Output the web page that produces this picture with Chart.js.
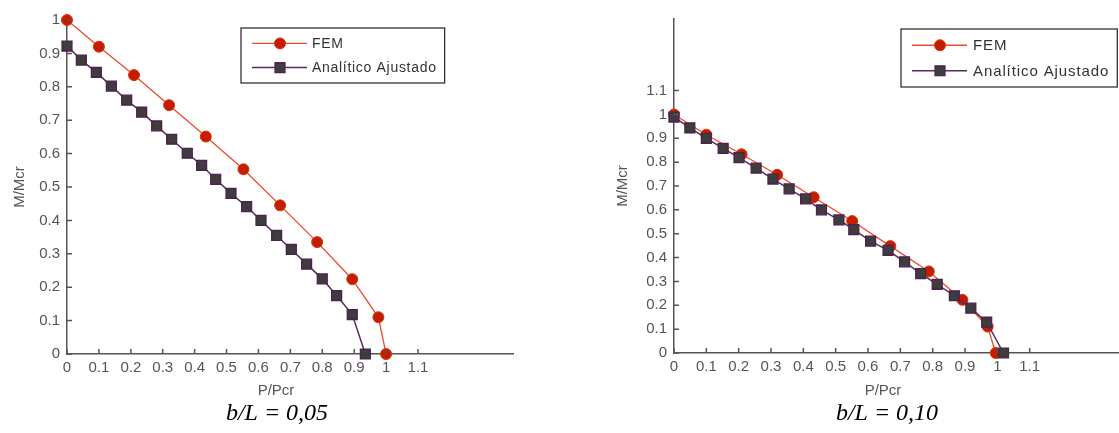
<!DOCTYPE html>
<html>
<head>
<meta charset="utf-8">
<script src="https://cdn.jsdelivr.net/npm/chart.js@4.4.1/dist/chart.umd.min.js"></script>
<style>
  html, body { margin: 0; padding: 0; background: #fff; }
  #wrap { position: relative; width: 1119px; height: 433px; overflow: hidden; }
  .box { position: absolute; top: 0; height: 433px; }
  #box05 { left: 0; width: 522px; }
  #box10 { left: 603px; width: 532px; }
</style>
</head>
<body>
<div id="wrap">
  <div class="box" id="box05"><canvas id="chart05"></canvas></div>
  <div class="box" id="box10"><canvas id="chart10"></canvas></div>
</div>
<script>
// Dados: b/L = 0,05
const femP05 = [0, 0.10, 0.21, 0.32, 0.435, 0.553, 0.668, 0.784, 0.894, 0.976, 1.0];
const femM05 = [1.0, 0.92, 0.835, 0.745, 0.651, 0.553, 0.445, 0.335, 0.224, 0.110, 0];
const anaP05 = [0, 0.045, 0.092, 0.139, 0.187, 0.234, 0.281, 0.328, 0.377, 0.422, 0.466,
                0.514, 0.563, 0.608, 0.657, 0.703, 0.751, 0.800, 0.845, 0.894, 0.935];
const anaM05 = [0.922, 0.880, 0.843, 0.802, 0.760, 0.724, 0.683, 0.643, 0.601, 0.565, 0.523,
                0.481, 0.441, 0.400, 0.355, 0.313, 0.269, 0.225, 0.175, 0.118, 0];

// Dados: b/L = 0,10
const femP10 = [0, 0.10, 0.209, 0.319, 0.432, 0.551, 0.669, 0.788, 0.892, 0.970, 0.995];
const femM10 = [1.0, 0.915, 0.833, 0.747, 0.653, 0.553, 0.448, 0.342, 0.223, 0.111, 0];
const anaP10 = [0, 0.049, 0.100, 0.152, 0.201, 0.254, 0.306, 0.356, 0.407, 0.456, 0.510,
                0.556, 0.608, 0.662, 0.713, 0.763, 0.814, 0.867, 0.918, 0.967, 1.019];
const anaM10 = [0.989, 0.944, 0.900, 0.858, 0.819, 0.775, 0.729, 0.688, 0.646, 0.600, 0.558,
                0.517, 0.469, 0.430, 0.382, 0.333, 0.288, 0.240, 0.188, 0.129, 0];

// Rótulos dos eixos
const xTicks = [0, 0.1, 0.2, 0.3, 0.4, 0.5, 0.6, 0.7, 0.8, 0.9, 1, 1.1];
const yTicks05 = [0, 0.1, 0.2, 0.3, 0.4, 0.5, 0.6, 0.7, 0.8, 0.9, 1];
const yTicks10 = [0, 0.1, 0.2, 0.3, 0.4, 0.5, 0.6, 0.7, 0.8, 0.9, 1, 1.1];
const seriesNames = ['FEM', 'Analítico Ajustado'];

const sans = "'Liberation Sans', Arial, sans-serif";
const axisGray = '#555';

function pts(xs, ys) {
    return xs.map((v, i) => ({ x: v, y: ys[i] }));
}

// Desenha marcas de escala para dentro, legenda com caixa e textos de baixo
const extras = {
    id: 'extras',
    afterDraw(chart, args, opts) {
        const ctx = chart.ctx;
        const xs = chart.scales.x, ys = chart.scales.y;
        ctx.save();

        ctx.strokeStyle = axisGray;
        ctx.lineWidth = 1.5;
        ctx.beginPath();
        xs.ticks.forEach(t => {
            const px = xs.getPixelForValue(t.value);
            ctx.moveTo(px, xs.top);
            ctx.lineTo(px, xs.top - 5);
        });
        ys.ticks.forEach(t => {
            const py = ys.getPixelForValue(t.value);
            ctx.moveTo(ys.right, py);
            ctx.lineTo(ys.right + 5, py);
        });
        ctx.stroke();

        // título do eixo x e legenda da figura
        ctx.fillStyle = axisGray;
        ctx.textAlign = 'center';
        ctx.textBaseline = 'middle';
        ctx.font = '15px ' + sans;
        ctx.fillText('P/Pcr', opts.xTitle.x, opts.xTitle.y);
        ctx.fillStyle = '#000';
        ctx.font = 'italic 24px "Liberation Serif", "Times New Roman", serif';
        ctx.fillText(opts.caption.text, opts.caption.x, opts.caption.y);

        // legenda
        const lg = opts.legend;
        ctx.font = lg.size + 'px ' + sans;
        ctx.letterSpacing = lg.spacing + 'px';
        let tw = 0;
        chart.data.datasets.forEach(d => { tw = Math.max(tw, ctx.measureText(d.label).width); });
        const w = lg.textDx + tw + 8;
        ctx.fillStyle = '#fff';
        ctx.fillRect(lg.x, lg.y, w, lg.h);
        ctx.strokeStyle = '#222';
        ctx.lineWidth = 1.2;
        ctx.strokeRect(lg.x, lg.y, w, lg.h);
        [0, 1].forEach((k, row) => {
            const d = chart.data.datasets[k];
            const cy = lg.y + lg.h * (row === 0 ? 0.28 : 0.72);
            ctx.strokeStyle = d.borderColor;
            ctx.lineWidth = d.borderWidth;
            ctx.beginPath();
            ctx.moveTo(lg.x + 11, cy);
            ctx.lineTo(lg.x + 66, cy);
            ctx.stroke();
            ctx.fillStyle = d.pointBackgroundColor;
            ctx.strokeStyle = d.pointBorderColor;
            ctx.lineWidth = d.pointBorderWidth;
            Chart.helpers.drawPoint(ctx, { pointStyle: d.pointStyle, radius: d.pointRadius, borderWidth: d.pointBorderWidth, rotation: 0 }, lg.x + 39, cy);
            ctx.fillStyle = '#333';
            ctx.textAlign = 'left';
            ctx.fillText(d.label, lg.x + lg.textDx, cy + 1);
        });

        ctx.restore();
    }
};

function makeChart(id, femP, femM, anaP, anaM, yTicks, yMax, padTop, xHeight, extraOpts) {
    const ctx = document.getElementById(id);
    return new Chart(ctx.getContext('2d'), {
        type: 'scatter',
        data: {
            datasets: [{
                label: seriesNames[0],
                data: pts(femP, femM),
                showLine: true,
                clip: false,
                borderColor: '#f04a26',
                borderWidth: 1.3,
                pointStyle: 'circle',
                pointRadius: 5.5,
                pointBackgroundColor: '#c41e00',
                pointBorderColor: '#d8340f',
                pointBorderWidth: 1,
                order: 1
            }, {
                label: seriesNames[1],
                data: pts(anaP, anaM),
                showLine: true,
                clip: false,
                borderColor: '#5c2a5e',
                borderWidth: 1.5,
                pointStyle: 'rect',
                pointRadius: 7,
                pointBackgroundColor: '#3d3d3d',
                pointBorderColor: '#4f1f52',
                pointBorderWidth: 1.3,
                order: 0
            }]
        },
        options: {
            responsive: true,
            maintainAspectRatio: false,
            animation: false,
            layout: { padding: { top: padTop, left: 0, right: 0, bottom: 0 } },
            plugins: {
                legend: { display: false },
                tooltip: { enabled: false },
                extras: extraOpts
            },
            scales: {
                x: {
                    type: 'linear',
                    min: 0,
                    max: 1.4,
                    afterBuildTicks: s => { s.ticks = xTicks.map(v => ({ value: v })); },
                    afterFit: s => { s.height = xHeight; },
                    ticks: {
                        color: axisGray,
                        font: { family: sans, size: 15 },
                        padding: 5,
                        maxRotation: 0,
                        callback: v => String(v)
                    },
                    grid: { display: false, drawTicks: false },
                    border: { display: true, color: axisGray, width: 1.5 }
                },
                y: {
                    type: 'linear',
                    min: 0,
                    max: yMax,
                    afterBuildTicks: s => { s.ticks = yTicks.map(v => ({ value: v })); },
                    afterFit: s => { s.width = extraOpts.yWidth; },
                    ticks: {
                        color: axisGray,
                        font: { family: sans, size: 15 },
                        padding: 7,
                        callback: v => String(v)
                    },
                    title: {
                        display: true,
                        text: 'M/Mcr',
                        color: axisGray,
                        font: { family: sans, size: 15 },
                        padding: { top: 11, bottom: 0 }
                    },
                    grid: { display: false, drawTicks: false },
                    border: { display: true, color: axisGray, width: 1.5 }
                }
            }
        },
        plugins: [extras]
    });
}

makeChart('chart05', femP05, femM05, anaP05, anaM05, yTicks05, 1, 20, 79, {
    yWidth: 67,
    xTitle: { x: 276, y: 391 },
    caption: { text: 'b/L = 0,05', x: 277, y: 414 },
    legend: { x: 241, y: 28, h: 55, size: 14, spacing: 0.7, textDx: 71 }
});

makeChart('chart10', femP10, femM10, anaP10, anaM10, yTicks10, 1.4, 19, 80, {
    yWidth: 71,
    xTitle: { x: 280, y: 391 },
    caption: { text: 'b/L = 0,10', x: 284, y: 414 },
    legend: { x: 298, y: 29, h: 58, size: 15, spacing: 0.9, textDx: 72 }
});
</script>
</body>
</html>
